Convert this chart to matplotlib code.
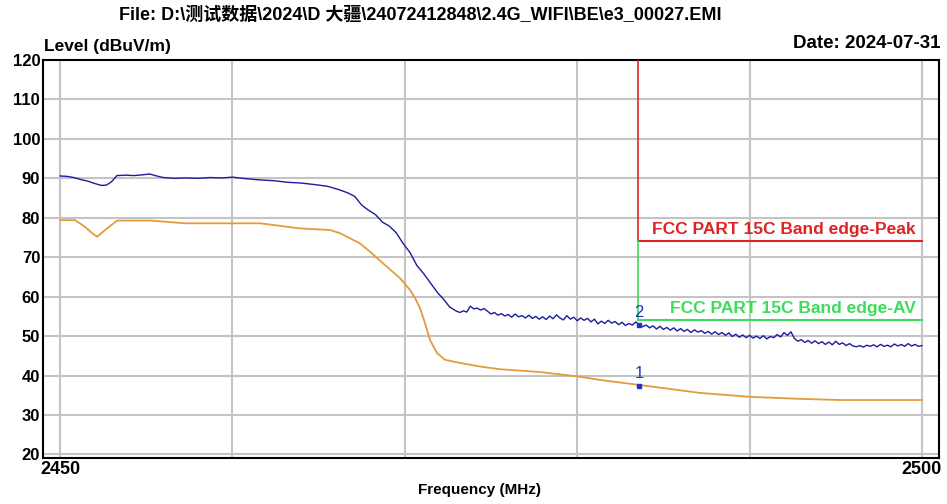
import numpy as np, matplotlib; matplotlib.use('Agg')
import matplotlib.pyplot as plt

plt.rcParams['font.family'] = ['Liberation Sans', 'Noto Sans CJK SC', 'DejaVu Sans']

title = 'File: D:\\测试数据\\2024\\D 大疆\\24072412848\\2.4G_WIFI\\BE\\e3_00027.EMI'
date_txt = 'Date: 2024-07-31'
ylab = 'Level (dBuV/m)'
xlab = 'Frequency (MHz)'

# peak trace (blue)
pk_f = [2450.0, 2450.4, 2450.8, 2451.2, 2451.6, 2452.0, 2452.4, 2452.7, 2453.0, 2453.3,
        2453.8, 2454.3, 2454.8, 2455.2, 2455.6, 2456.0, 2456.6, 2457.3, 2458.0, 2458.7,
        2459.4, 2460.0, 2460.8, 2461.6, 2462.4, 2463.2, 2464.0, 2464.8, 2465.5, 2466.2,
        2466.7, 2467.1, 2467.5, 2467.9, 2468.3, 2468.7, 2469.1, 2469.5, 2469.9, 2470.3,
        2470.7, 2471.1, 2471.5, 2471.9, 2472.2, 2472.6,
        2473.0, 2473.2, 2473.4, 2473.6, 2473.8, 2474.0, 2474.2, 2474.4, 2474.6, 2474.8,
        2475.0, 2475.2, 2475.4, 2475.6, 2475.8, 2476.0, 2476.2, 2476.4, 2476.6, 2476.8,
        2477.0, 2477.2, 2477.4, 2477.6, 2477.8, 2478.0, 2478.2, 2478.4, 2478.6, 2478.8,
        2479.0, 2479.2, 2479.4, 2479.6, 2479.8, 2480.0, 2480.2, 2480.4, 2480.6, 2480.8,
        2481.0, 2481.2, 2481.4, 2481.6, 2481.8, 2482.0, 2482.2, 2482.4, 2482.6, 2482.8,
        2483.0, 2483.2, 2483.4, 2483.58, 2483.8, 2484.0, 2484.2, 2484.4, 2484.6, 2484.8,
        2485.0, 2485.2, 2485.4, 2485.6, 2485.8, 2486.0, 2486.2, 2486.4, 2486.6, 2486.8,
        2487.0, 2487.2, 2487.4, 2487.6, 2487.8, 2488.0, 2488.2, 2488.4, 2488.6, 2488.8,
        2489.0, 2489.2, 2489.4, 2489.6, 2489.8, 2490.0, 2490.2, 2490.4, 2490.6, 2490.8,
        2491.0, 2491.2, 2491.4, 2491.6, 2491.8, 2492.0, 2492.2, 2492.4, 2492.6, 2492.8,
        2493.0, 2493.2, 2493.4, 2493.6, 2493.8, 2494.0, 2494.2, 2494.4, 2494.6, 2494.8,
        2495.0, 2495.2, 2495.4, 2495.6, 2495.8, 2496.0, 2496.2, 2496.4, 2496.6, 2496.8,
        2497.0, 2497.2, 2497.4, 2497.6, 2497.8, 2498.0, 2498.2, 2498.4, 2498.6, 2498.8,
        2499.0, 2499.2, 2499.4, 2499.6, 2499.8, 2500.0]
pk_v = [90.6, 90.5, 90.2, 89.7, 89.3, 88.7, 88.2, 88.3, 89.2, 90.7,
        90.8, 90.7, 90.9, 91.1, 90.6, 90.2, 90.0, 90.1, 90.0, 90.2,
        90.1, 90.3, 89.9, 89.6, 89.4, 89.0, 88.8, 88.4, 88.0, 87.1,
        86.3, 85.4, 83.2, 81.9, 80.8, 78.9, 77.9, 76.2, 73.5, 71.2,
        67.9, 65.8, 63.4, 61.0, 59.6, 57.4,
        56.3, 56.0, 56.4, 56.1, 57.6, 56.9, 57.1, 56.6, 57.0, 56.3,
        55.6, 56.0, 55.3, 55.7, 55.1, 55.5, 54.8, 55.6, 54.9, 55.2,
        54.6, 55.3, 54.5, 55.0, 54.3, 54.9, 54.2, 55.1, 54.4, 55.4,
        54.6, 54.1, 55.2, 54.3, 54.8, 53.9, 54.6, 54.0, 54.5, 53.6,
        54.3, 53.1, 53.8, 53.2, 54.0, 53.3, 53.7, 52.9, 53.5, 52.7,
        53.2, 52.8, 53.6, 52.9, 52.4, 52.8, 52.1, 52.6, 51.8, 52.5,
        51.7, 52.2, 51.5, 52.1, 51.3, 51.9, 51.2, 51.7, 50.9, 51.6,
        51.0, 51.4, 50.7, 51.2, 50.5, 51.1, 50.4, 50.9, 50.2, 50.8,
        49.9, 50.5, 49.7, 50.3, 49.6, 50.2, 49.5, 50.0, 49.4, 50.1,
        49.3, 49.9, 49.6, 50.4, 49.8, 50.9, 50.2, 51.1, 49.4, 48.7,
        49.1, 48.4, 48.9, 48.2, 48.8, 48.1, 48.6, 47.9, 48.5, 47.8,
        48.7, 47.9, 48.3, 47.6, 48.1, 47.5, 47.3, 47.6, 47.2, 47.7,
        47.4, 47.8, 47.3, 47.9, 47.4, 47.7, 47.3, 48.0, 47.5, 47.9,
        47.4, 48.1, 47.5, 47.9, 47.4, 47.6]

# average trace (orange)
av_f = [2450.0, 2450.87, 2451.45, 2451.86, 2452.15, 2452.61, 2453.31, 2455.22, 2457.25, 2461.6,
        2463.92, 2465.66, 2466.24, 2467.40, 2467.98, 2468.85, 2469.72, 2470.30, 2470.59, 2470.88,
        2471.17, 2471.46, 2471.87, 2472.33, 2473.20, 2474.36, 2475.52, 2477.84, 2480.16, 2481.32,
        2483.64, 2487.12, 2490.02, 2492.92, 2495.24, 2500.0]
av_v = [79.4, 79.4, 77.7, 76.1, 75.2, 76.9, 79.3, 79.3, 78.6, 78.6,
        77.3, 76.9, 76.1, 73.5, 71.4, 68.0, 64.7, 61.7, 59.7, 57.1,
        53.3, 49.0, 45.7, 44.0, 43.2, 42.3, 41.6, 40.9, 39.7, 38.9,
        37.6, 35.6, 34.6, 34.1, 33.8, 33.8]

# limits
edge_f = 2483.5
lim_pk = 74
lim_av = 54
lim_pk_txt = 'FCC PART 15C Band edge-Peak'
lim_av_txt = 'FCC PART 15C Band edge-AV'

# markers
mk_f = [2483.58, 2483.58]
mk_v = [37.3, 52.9]
mk_lab = ['1', '2']

fig = plt.figure(figsize=(9.47, 5.04), dpi=100)
ax = fig.add_axes([43/947, 1-458/504, (939-43)/947, (458-60)/504])
ax.set_xlim(2449.01, 2500.99); ax.set_ylim(19.1, 120)
for f in [2450, 2460, 2470, 2480, 2490, 2500]:
    ax.axvline(f, color='#c4c4c4', lw=1.5, zorder=1)
for v in range(20, 121, 10):
    ax.axhline(v, color='#c4c4c4', lw=1.5, zorder=1)
ax.set_xticks([2450, 2500]); ax.set_xticklabels(['2450', '2500'], fontweight='bold', fontsize=13)
ax.set_yticks(range(20, 121, 10)); ax.set_yticklabels([str(v) for v in range(20, 121, 10)], fontweight='bold', fontsize=12)
ax.tick_params(length=0, pad=2)
for s in ax.spines.values(): s.set_linewidth(1.5); s.set_color('black')

ax.plot(av_f, av_v, color='#e39b3c', lw=1.3, zorder=3)
ax.plot(pk_f, pk_v, color='#1c1c9c', lw=1.0, zorder=4)

ax.plot([edge_f, edge_f], [120, lim_pk], color='#e02222', lw=1.2, zorder=5)
ax.plot([edge_f, 2500], [lim_pk, lim_pk], color='#e02222', lw=1.5, zorder=5)
ax.plot([edge_f, edge_f], [lim_pk, lim_av], color='#3ddc5a', lw=1.2, zorder=5)
ax.plot([edge_f, 2500], [lim_av, lim_av], color='#3ddc5a', lw=1.5, zorder=5)
ax.text(2499.65, lim_pk+1.2, lim_pk_txt, color='#e02222', fontweight='bold', fontsize=12.5, ha='right', va='bottom', zorder=6)
ax.text(2499.65, lim_av+1.2, lim_av_txt, color='#3ddc5a', fontweight='bold', fontsize=12.5, ha='right', va='bottom', zorder=6)

ax.plot(mk_f, mk_v, 's', color='#2233cc', ms=3.5, zorder=7)
for f, v, l in zip(mk_f, mk_v, mk_lab):
    ax.text(f, v+1.2, l, color='#2233cc', fontsize=12, ha='center', va='bottom', zorder=7)

fig.text(420/947, 1-15/504, title, ha='center', va='center', fontsize=13, fontweight='bold')
fig.text(44/947, 1-47/504, ylab, ha='left', va='center', fontsize=12.5, fontweight='bold')
fig.text(940/947, 1-44/504, date_txt, ha='right', va='center', fontsize=13.5, fontweight='bold')
fig.text(480/947, 1-490/504, xlab, ha='center', va='center', fontsize=11, fontweight='bold')

fig.savefig('out.png', dpi=100)
